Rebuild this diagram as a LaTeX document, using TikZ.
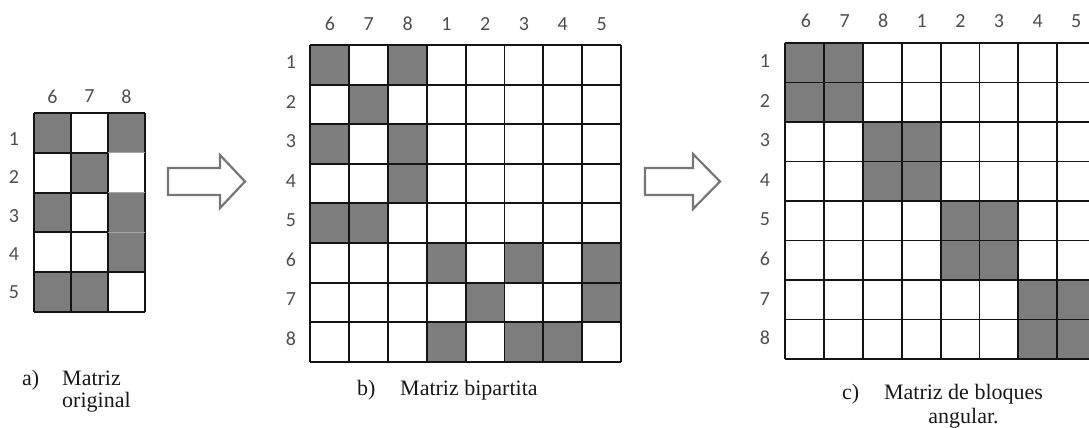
\documentclass[tikz,border=0pt]{standalone}
\usepackage{fontspec}
\setmainfont{Liberation Serif}
\newfontfamily\numfont{Carlito}
\definecolor{cellgray}{RGB}{125,125,125}
\definecolor{numgray}{RGB}{78,78,78}
\definecolor{arrowgray}{RGB}{118,118,118}
\definecolor{captext}{RGB}{25,25,25}
\tikzset{
  gridline/.style={line width=1.9pt, draw=black!92},
  thinline/.style={line width=1pt, draw=black!35},
  num/.style={inner sep=0pt, text=numgray, font=\numfont\fontsize{20}{20}\selectfont},
  captxt/.style={inner sep=0pt, anchor=base west, text=captext, font=\fontsize{22}{24}\selectfont},
  bigarrow/.style={draw=arrowgray, line width=2.2pt, fill=white, line join=miter},
}
\begin{document}
\begin{tikzpicture}[x=1pt,y=-1pt]
\useasboundingbox (0,0) rectangle (1089,428);
\clip (0,0) rectangle (1089,428);

% ---------- Matrix a ----------
\foreach \r/\c in {1/1,1/3,2/2,3/1,3/3,4/3,5/1,5/2}
  \fill[cellgray] ({34+(\c-1)*37},{113+(\r-1)*39.8}) rectangle ++(37,39.8);
\foreach \k in {0,...,3}
  \draw[gridline] ({34+\k*37},113) -- ({34+\k*37},312);
\foreach \k in {0,4,5}
  \draw[gridline] (34,{113+\k*39.8}) -- (145,{113+\k*39.8});
\foreach \k in {1,2,3}{
  \draw[gridline] (34,{113+\k*39.8}) -- (108,{113+\k*39.8});
  \draw[thinline] (108,{113+\k*39.8}) -- (145,{113+\k*39.8});
}
\foreach \t [count=\i] in {6,7,8}
  \node[num] (acol\i) at ({52.5+(\i-1)*37},96.5) {\t};
\foreach \t [count=\i] in {1,2,3,4,5}
  \node[num] (arow\i) at (14,{139+(\i-1)*38.4}) {\t};
\node[captxt] (alab) at (22,385) {a)};
\node[captxt] (acap1) at (62,385) {Matriz};
\node[captxt] (acap2) at (62,407) {original};

% ---------- Arrow 1 ----------
\draw[bigarrow] (168,168) -- (220,168) -- (220,155) -- (245,181.5) -- (220,208) -- (220,195) -- (168,195) -- cycle;

% ---------- Matrix b ----------
\foreach \r/\c in {1/1,1/3,2/2,3/1,3/3,4/3,5/1,5/2,6/4,6/6,6/8,7/5,7/8,8/4,8/6,8/7}
  \fill[cellgray] ({310+(\c-1)*38.9},{45+(\r-1)*39.6}) rectangle ++(38.9,39.6);
\foreach \k in {0,...,8}{
  \draw[gridline] ({310+\k*38.9},45) -- ({310+\k*38.9},361.8);
  \draw[gridline] (310,{45+\k*39.6}) -- (621.2,{45+\k*39.6});
}
\foreach \t [count=\i] in {6,7,8,1,2,3,4,5}
  \node[num] (bcol\i) at ({330+(\i-1)*38.8},24) {\t};
\foreach \t [count=\i] in {1,2,3,4,5,6,7,8}
  \node[num] (brow\i) at (291,{62.5+(\i-1)*39.4}) {\t};
\node[captxt] (blab) at (357,395) {b)};
\node[captxt] (bcap) at (400,395) {Matriz bipartita};

% ---------- Arrow 2 ----------
\draw[bigarrow] (645,168) -- (693,168) -- (693,154) -- (720,181.5) -- (693,209) -- (693,195) -- (645,195) -- cycle;

% ---------- Matrix c ----------
\foreach \r/\c in {1/1,1/2,2/1,2/2,3/3,3/4,4/3,4/4,5/5,5/6,6/5,6/6,7/7,7/8,8/7,8/8}
  \fill[cellgray] ({785+(\c-1)*38.9},{43+(\r-1)*39.5}) rectangle ++(38.9,39.5);
\foreach \k in {0,...,8}{
  \draw[gridline] ({785+\k*38.9},43) -- ({785+\k*38.9},359);
  \draw[gridline] (785,{43+\k*39.5}) -- (1096.2,{43+\k*39.5});
}
\foreach \t [count=\i] in {6,7,8,1,2,3,4,5}
  \node[num] (ccol\i) at ({806+(\i-1)*38.6},21) {\t};
\foreach \t [count=\i] in {1,2,3,4,5,6,7,8}
  \node[num] (crow\i) at (765,{61+(\i-1)*39.6}) {\t};
\node[captxt] (clab) at (842,399.5) {c)};
\node[captxt, anchor=base] (ccap1) at (963.5,399.5) {Matriz de bloques};
\node[captxt, anchor=base] (ccap2) at (963.5,423) {angular.};
\end{tikzpicture}
\end{document}
